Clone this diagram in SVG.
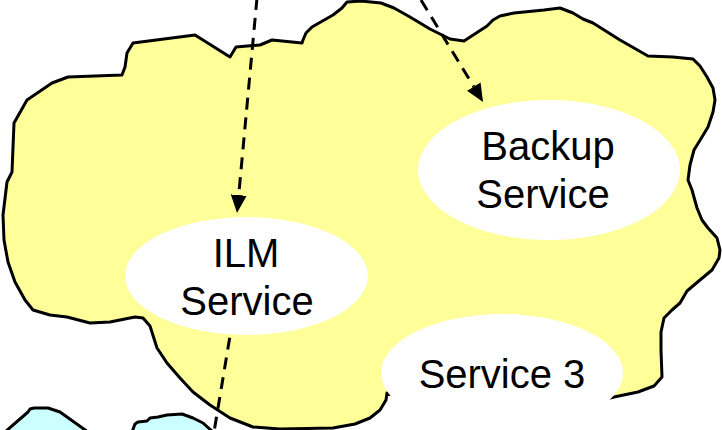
<svg xmlns="http://www.w3.org/2000/svg" width="722" height="430" viewBox="0 0 722 430">
<style>
.cloud{fill:#FFFF99;stroke:#000;stroke-width:3;stroke-linejoin:round}
.small{fill:#CCFFFF;stroke:#000;stroke-width:3;stroke-linejoin:round}
.svc{fill:#fff;stroke:none}
.lbl{font-family:"Liberation Sans",Arial,sans-serif;font-size:40px;fill:#000;text-anchor:middle}
.conn{fill:none;stroke:#000;stroke-width:3;stroke-dasharray:12 8}
</style>
<defs>
<marker id="ah" viewBox="0 0 18 16" refX="0" refY="8" markerWidth="18" markerHeight="16" markerUnits="userSpaceOnUse" orient="auto">
<path d="M0,0 L18,8 L0,16 Z" fill="#000"/>
</marker>
</defs>
<rect width="722" height="430" fill="#fff"/>
<g id="cloud">
<path class="cloud" d="M3,215 L4,240 L8,262 L15,282 L25,300 L33,310 L50,315 L67,317 L90,323 L110,322 L135,317 L143,318 L150,326 L157,348 L167,363 L180,378 L193,392 L210,405 L230,418 L253,427 L280,429 L333,428 L355,424 L370,418 L380,410 L386,400 L387,393 L450,415 L560,410 L614,397 L638,392 L654,386 L662,377 L661,350 L661,332 L664,318 L672,310 L680,303 L687,291 L700,280 L712,270 L719,258 L720,250 L717,238 L708,228 L702,220 L697,208 L692,190 L688,180 L690,165 L694,150 L702,137 L708,127 L713,112 L715,100 L713,88 L707,77 L700,66 L693,59 L673,57 L648,56 L620,40 L593,23 L583,19 L573,13 L560,8 L544,10 L514,13 L500,16 L493,20 L487,26 L464,41 L450,39 L430,29 L410,17 L394,8 L381,3 L361,1 L347,2 L342,8 L333,15 L312,27 L306,33 L303,40 L302,43 L272,40 L260,45 L236,47 L230,57 L195,35 L133,43 L127,53 L125,67 L122,75 L68,77 L52,83 L27,100 L14,123 L12,172 L7,182 Z"/>
</g>
<g id="net1">
<path class="small" d="M5,432 L28,412 L30,409 L34,408 L48,408 L60,412 L88,432"/>
</g>
<g id="net2">
<path class="small" d="M132,432 L135,424 L138,422 L147,421 L150,418 L158,417 L167,415 L182,414 L193,418 L203,423 L213,432"/>
</g>
<g id="connectors">
<line class="conn" x1="257" y1="-2" x2="238.7" y2="195.1" marker-end="url(#ah)"/>
<line class="conn" x1="421" y1="0" x2="473.7" y2="86.6" marker-end="url(#ah)"/>
<line class="conn" x1="233" y1="318" x2="214" y2="432"/>
</g>
<g id="ilm">
<ellipse class="svc" cx="246.5" cy="276" rx="121.5" ry="59"/>
<text class="lbl" x="246" y="267">ILM</text>
<text class="lbl" x="247" y="315">Service</text>
</g>
<g id="backup">
<ellipse class="svc" cx="549" cy="170" rx="131" ry="70"/>
<text class="lbl" x="548" y="160">Backup</text>
<text class="lbl" x="543" y="208">Service</text>
</g>
<g id="service3">
<ellipse class="svc" cx="502" cy="373" rx="121" ry="59"/>
<text class="lbl" x="502" y="388">Service 3</text>
</g>
</svg>
